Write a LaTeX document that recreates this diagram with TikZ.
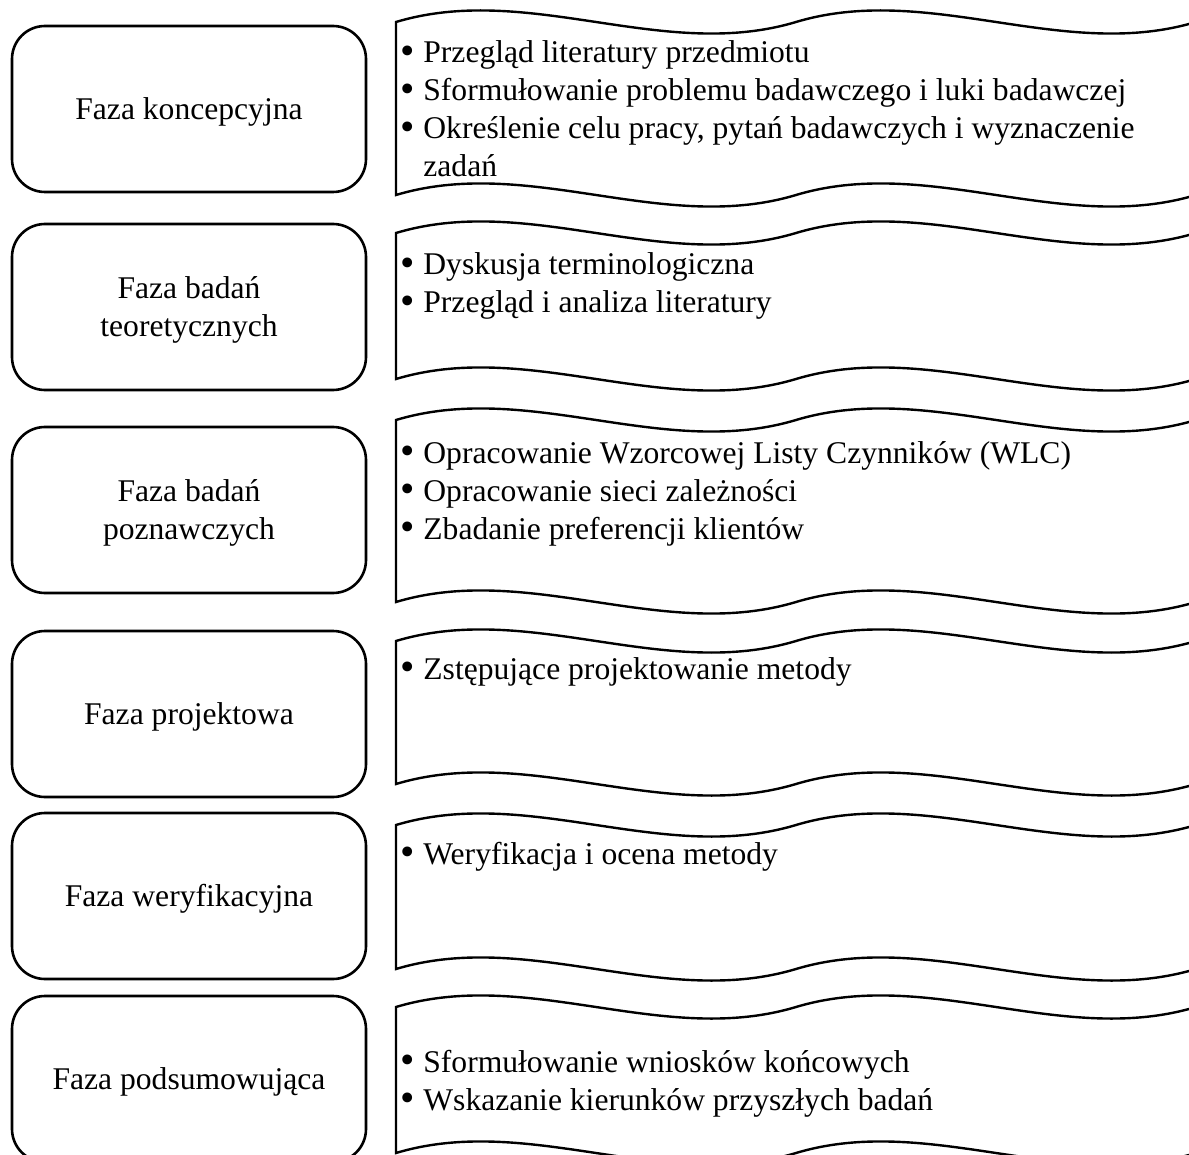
\documentclass[tikz,border=0pt]{standalone}
\usepackage{fontspec}
\setmainfont{Liberation Serif}

\newcommand{\diagfont}{\fontsize{15.8pt}{19pt}\selectfont}
\newcommand{\bul}{\makebox[13pt][l]{\hspace{1.5pt}\raisebox{-0.9pt}{\scalebox{1.3}{•}}}}
\newcommand{\lowered}[1]{\raisebox{-1.5pt}[\height][\depth]{#1}}

% Banner outline with a two-period wave along the top and bottom edges.
% #1 = baseline of the top wave, #2 = baseline of the bottom wave.
\newcommand{\wavepanel}[2]{%
  \draw[wavepath] (396,#1)
      .. controls (529.33,#1-40) and (662.67,#1+40) .. (796,#1)
      .. controls (929.33,#1-40) and (1062.67,#1+40) .. (1196,#1)
      -- (1196,#2)
      .. controls (1062.67,#2+40) and (929.33,#2-40) .. (796,#2)
      .. controls (662.67,#2+40) and (529.33,#2-40) .. (396,#2)
      -- cycle;}

\tikzset{
  phase/.style={draw, line width=1.3pt, rounded corners=16.5pt,
    minimum width=177pt, minimum height=83pt, align=center,
    inner sep=0pt, font=\diagfont},
  wavepath/.style={line width=1.2pt, line join=miter},
  items/.style={anchor=base west, inner sep=0pt, font=\diagfont},
}

\begin{document}
\begin{tikzpicture}[x=0.5pt,y=-0.5pt]
  \useasboundingbox (0,0) rectangle (1189,1155);
  \clip (0,0) rectangle (1189,1155);

  % phase boxes
  \node[phase] (p1) at (189,109)  {\lowered{Faza koncepcyjna}};
  \node[phase] (p2) at (189,307)  {\lowered{\begin{tabular}{@{}c@{}}Faza badań\\teoretycznych\end{tabular}}};
  \node[phase] (p3) at (189,510)  {\lowered{\begin{tabular}{@{}c@{}}Faza badań\\poznawczych\end{tabular}}};
  \node[phase] (p4) at (189,714)  {\lowered{Faza projektowa}};
  \node[phase] (p5) at (189,896)  {\lowered{Faza weryfikacyjna}};
  \node[phase] (p6) at (189,1079) {\lowered{Faza podsumowująca}};

  % wave banners
  \wavepanel{22}{195}
  \wavepanel{233}{379}
  \wavepanel{420}{602}
  \wavepanel{641}{784}
  \wavepanel{825}{969}
  \wavepanel{1007}{1153}

  % bullet lists
  \node[items] (l1) at (397,63) {\begin{tabular}[t]{@{}l@{}}
    \bul Przegląd literatury przedmiotu\\
    \bul Sformułowanie problemu badawczego i luki badawczej\\
    \bul Określenie celu pracy, pytań badawczych i wyznaczenie\\
    \hspace*{13pt}zadań
  \end{tabular}};
  \node[items] (l2) at (397,275) {\begin{tabular}[t]{@{}l@{}}
    \bul Dyskusja terminologiczna\\
    \bul Przegląd i analiza literatury
  \end{tabular}};
  \node[items] (l3) at (397,463) {\begin{tabular}[t]{@{}l@{}}
    \bul Opracowanie Wzorcowej Listy Czynników (WLC)\\
    \bul Opracowanie sieci zależności\\
    \bul Zbadanie preferencji klientów
  \end{tabular}};
  \node[items] (l4) at (397,679) {\begin{tabular}[t]{@{}l@{}}
    \bul Zstępujące projektowanie metody
  \end{tabular}};
  \node[items] (l5) at (397,864) {\begin{tabular}[t]{@{}l@{}}
    \bul Weryfikacja i ocena metody
  \end{tabular}};
  \node[items] (l6) at (397,1072) {\begin{tabular}[t]{@{}l@{}}
    \bul Sformułowanie wniosków końcowych\\
    \bul Wskazanie kierunków przyszłych badań
  \end{tabular}};
\end{tikzpicture}
\end{document}
